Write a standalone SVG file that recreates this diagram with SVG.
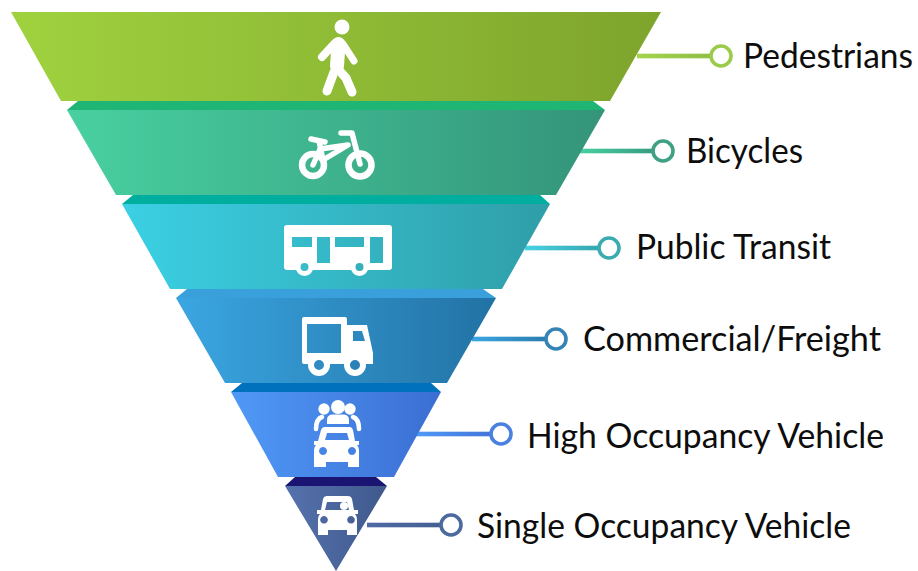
<svg xmlns="http://www.w3.org/2000/svg" width="918" height="571" viewBox="0 0 918 571">
<style>
.lbl{font-family:"Lato","Liberation Sans",sans-serif;font-size:34px;fill:#0d0d0d}
.ring{fill:#fff;stroke-width:3.6}
.ln{stroke:#fff;fill:none;stroke-linecap:round;stroke-linejoin:round}
.w{fill:#fff}
</style>
<defs>
<linearGradient id="g1"><stop offset="0" stop-color="#a0d23f"/><stop offset="1" stop-color="#7ea42c"/></linearGradient>
<linearGradient id="g2"><stop offset="0" stop-color="#48d0a0"/><stop offset="1" stop-color="#34947a"/></linearGradient>
<linearGradient id="g3"><stop offset="0" stop-color="#3bd0e4"/><stop offset="1" stop-color="#2f9ea8"/></linearGradient>
<linearGradient id="g4"><stop offset="0" stop-color="#3ba6e2"/><stop offset="1" stop-color="#2272a4"/></linearGradient>
<linearGradient id="g5"><stop offset="0" stop-color="#5099f7"/><stop offset="1" stop-color="#3b6ed2"/></linearGradient>
<linearGradient id="g6"><stop offset="0" stop-color="#5672ad"/><stop offset="1" stop-color="#3f598c"/></linearGradient>
<linearGradient id="l1"><stop offset="0" stop-color="#a3d44c"/><stop offset="1" stop-color="#8fbf45"/></linearGradient>
<linearGradient id="l2"><stop offset="0" stop-color="#48d0a0"/><stop offset="1" stop-color="#369a80"/></linearGradient>
<linearGradient id="l3"><stop offset="0" stop-color="#45d2e4"/><stop offset="1" stop-color="#35a6ae"/></linearGradient>
<linearGradient id="l4"><stop offset="0" stop-color="#3ba6e2"/><stop offset="1" stop-color="#2a7cae"/></linearGradient>
<linearGradient id="l5"><stop offset="0" stop-color="#5099f7"/><stop offset="1" stop-color="#4274d8"/></linearGradient>
<linearGradient id="l6"><stop offset="0" stop-color="#5068a5"/><stop offset="1" stop-color="#465f92"/></linearGradient>
</defs>

<g id="connectors">
<rect x="637" y="53.7" width="73" height="4.6" fill="url(#l1)"/>
<rect x="580" y="148.7" width="74" height="4.6" fill="url(#l2)"/>
<rect x="525" y="245.7" width="75" height="4.6" fill="url(#l3)"/>
<rect x="472" y="336.7" width="76" height="4.6" fill="url(#l4)"/>
<rect x="416" y="431.7" width="77" height="4.6" fill="url(#l5)"/>
<rect x="367" y="522.7" width="76" height="4.6" fill="url(#l6)"/>
</g>

<g id="node-pedestrians">
<polygon points="11,12 661,12 610,101 61,101" fill="url(#g1)"/>
<circle cx="342" cy="27" r="7.5" class="w"/>
<path d="M335,43 L322,57" class="ln" stroke-width="8"/>
<path d="M343,44 L354,61" class="ln" stroke-width="7"/>
<path d="M338.500,44 L337,66" class="ln" stroke-width="14"/>
<path d="M334,72 L327,91" class="ln" stroke-width="9"/>
<path d="M337,68 L346,78 L352,92" class="ln" stroke-width="9"/>
<circle cx="721" cy="56" r="10" class="ring" stroke="#9ccb4b"/>
<text x="743" y="68" class="lbl" textLength="170" lengthAdjust="spacingAndGlyphs">Pedestrians</text>
</g>

<g id="node-bicycles">
<polygon points="78,101 593,101 605,110 67,110" fill="#1fb574"/>
<polygon points="67,110 605,110 556,195 116,195" fill="url(#g2)"/>
<circle cx="313" cy="165" r="11" class="ln" stroke-width="6.500"/>
<circle cx="360" cy="165" r="11.500" class="ln" stroke-width="6.500"/>
<path d="M311,139 L325,142 M319,141 L323,160 M323,160 L348,145 L320,149 M320,149 L313,165 M341,133 H352 L360,164" class="ln" stroke-width="5.500"/>
<circle cx="663" cy="151" r="10" class="ring" stroke="#3fa184"/>
<text x="686" y="163" class="lbl" textLength="117" lengthAdjust="spacingAndGlyphs">Bicycles</text>
</g>

<g id="node-public-transit">
<polygon points="133,195 540,195 550,204 122,204" fill="#00ae9f"/>
<polygon points="122,204 550,204 502,289 170,289" fill="url(#g3)"/>
<path class="w" fill-rule="evenodd" d="M287,225 H389 Q392,225 392,228 V267 Q392,270 389,270 H287 Q284,270 284,267 V228 Q284,225 287,225 Z M292,237 V247 H312 V237 Z M317,237 V263 H330 V237 Z M335,237 V247 H364 V237 Z M370,237 V263 H383 V237 Z"/>
<circle cx="304.500" cy="267" r="6.500" fill="#39bcc8" stroke="#fff" stroke-width="5"/>
<circle cx="359.500" cy="267" r="6.500" fill="#35b0ba" stroke="#fff" stroke-width="5"/>
<circle cx="609" cy="248" r="10" class="ring" stroke="#3aabb0"/>
<text x="636" y="259" class="lbl" textLength="195" lengthAdjust="spacingAndGlyphs">Public Transit</text>
</g>

<g id="node-commercial-freight">
<polygon points="187,289 483,289 496,298 176,298" fill="#39a0dc"/>
<polygon points="176,298 496,298 447,383 225,383" fill="url(#g4)"/>
<path class="w" fill-rule="evenodd" d="M304,317 H345 Q347,317 347,319 V325 H367 L373,353 V364 H304 Q302,364 302,362 V319 Q302,317 304,317 Z M307,324 V353 H341 V324 Z M353,331 V341 H365 L362,331 Z"/>
<circle cx="319" cy="365" r="8" fill="#2f8cc2" stroke="#fff" stroke-width="6"/>
<circle cx="355" cy="365" r="8" fill="#2b82b6" stroke="#fff" stroke-width="6"/>
<circle cx="556" cy="339" r="10" class="ring" stroke="#3584b5"/>
<text x="583" y="351" class="lbl" textLength="298" lengthAdjust="spacingAndGlyphs">Commercial/Freight</text>
</g>

<g id="node-high-occupancy-vehicle">
<polygon points="242,383 431,383 441,392 231,392" fill="#0072bd"/>
<polygon points="231,392 441,392 394,477 278,477" fill="url(#g5)"/>
<circle cx="324" cy="409" r="5.700" class="w"/>
<circle cx="338" cy="407" r="7" class="w"/>
<circle cx="350" cy="409" r="5.700" class="w"/>
<path class="w" d="M327,424 V420 Q327,414.500 333,414.500 H343 Q349,414.500 349,420 V424 Z"/>
<path d="M316,429 Q316,419 322,417 M359,429 Q359,419 353,417" class="ln" stroke-width="4.500"/>
<path class="w" fill-rule="evenodd" d="M325,427 H350 Q352,427 353,430 L355,441 H359 V445 H357 Q359,447 359,450 V467 H348 V462 H326 V467 H314 V450 Q314,447 316,445 H314 V441 H318 L321,430 Q322,427 325,427 Z M327,433 L325,440 H349 L347,433 Z M323,447 A4,4 0 1 0 323.010,447 Z M352,447 A4,4 0 1 0 352.010,447 Z"/>
<circle cx="501" cy="434" r="10" class="ring" stroke="#4a80e0"/>
<text x="527" y="448" class="lbl" textLength="357" lengthAdjust="spacingAndGlyphs">High Occupancy Vehicle</text>
</g>

<g id="node-single-occupancy-vehicle">
<polygon points="295,477 376,477 387,486 285,486" fill="#1a1472"/>
<polygon points="285,486 387,486 336,571" fill="url(#g6)"/>
<path class="w" fill-rule="evenodd" d="M327,496 H348 Q351,496 352,499 L354,510 H358 V514 H355 Q357,516 357,519 V535 H347 V530 H328 V535 H318 V519 Q318,516 320,514 H317 V510 H321 L323,499 Q324,496 327,496 Z M327,502 L325,510 H349 L347,502 Z M324,516 A3.800,3.800 0 1 0 324.010,516 Z M351,516 A3.800,3.800 0 1 0 351.010,516 Z"/>
<circle cx="344" cy="506" r="4" class="w"/>
<circle cx="451" cy="525" r="10" class="ring" stroke="#4d6a9e"/>
<text x="477" y="538" class="lbl" textLength="374" lengthAdjust="spacingAndGlyphs">Single Occupancy Vehicle</text>
</g>
</svg>
